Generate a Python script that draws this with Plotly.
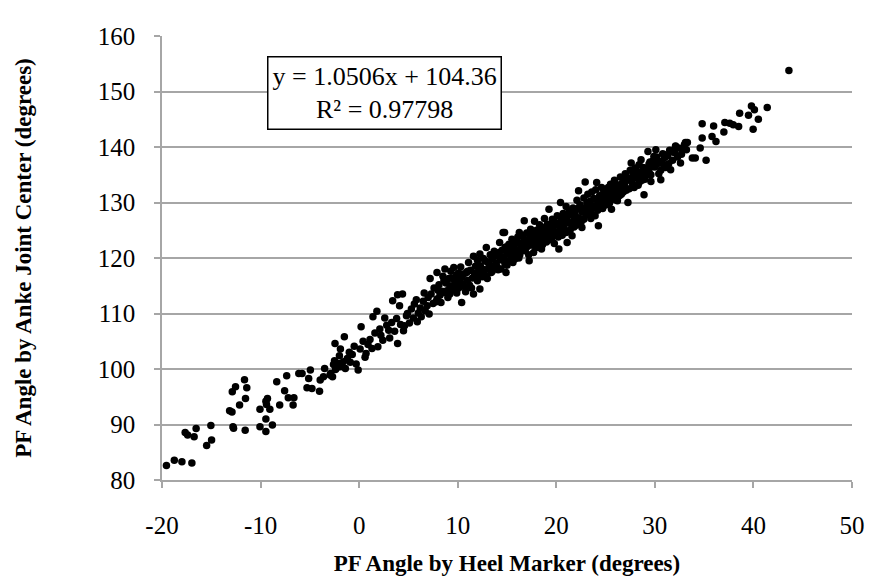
import plotly.graph_objects as go

# ---- data (x = heel marker angle, y = ankle joint centre angle) ----
x_low = [-19.55, -18.75, -17.98, -16.97, -17.65, -17.4, -16.74, -16.54, -15.47, -14.97, -15.04,
         -13.14, -12.9, -12.8, -12.74, -11.56, -12.87, -12.54, -11.63, -11.4, -11.53, -12.13,
         -10.06, -9.46, -9.4, -9.06, -9.46, -10.06, -9.46, -8.8, -9.3, -8.36, -8.06, -7.35,
         -7.56, -7.19, -6.62, -6.7, -6.12, -5.79, -5.12, -5.29, -4.79, -4.02, -3.95, -3.62,
         -2.95, -4.95, -3.5, -2.4, -1.9]
y_low = [82.6, 83.55, 83.3, 83.07, 88.57, 88.1, 87.8, 89.3, 86.2, 87.2, 89.8,
         92.5, 92.26, 89.6, 89.33, 88.98, 95.9, 96.8, 98.06, 96.6, 94.7, 93.5,
         92.74, 94.2, 93.6, 92.74, 91.0, 89.6, 88.75, 89.93, 94.7, 97.7, 93.5, 98.8,
         96.1, 94.8, 94.8, 93.5, 99.2, 99.2, 98.3, 96.6, 96.5, 96.0, 98.0, 98.6,
         98.9, 99.8, 100.1, 99.9, 100.4]

x_a = [-2.9, -2.6, -2.5, -2.3, -2.1, -2.0, -1.8, -1.6, -1.5, -1.4, -1.2, -1.0, -0.9, -0.7, -0.5,
       -0.3, -0.1, 0.1, 0.2, 0.4, 0.6, 0.7, 0.9, -2.45, -1.9, -2.7,
       1.1, 1.3, 1.4, 1.6, 1.8, 1.9, 2.1, 2.2, 2.4, 2.6, 2.8, 3.0, 3.1, 3.3, 3.4, 3.6, 3.8, 3.9,
       3.9, 4.1, 4.2, 4.4, 4.5, 4.6, 4.8, 4.9]
y_a = [99.2, 100.8, 101.5, 100.2, 101.0, 102.4, 100.6, 101.3, 105.8, 100.1, 101.9, 103.0, 101.2, 102.6, 104.1,
       100.9, 99.8, 103.6, 107.6, 105.0, 102.1, 102.8, 104.4, 104.6, 103.6, 98.6,
       105.3, 103.7, 109.4, 106.5, 110.4, 104.0, 107.2, 106.1, 105.2, 109.2, 107.9, 107.0, 105.6, 108.4, 112.3, 106.8, 109.1, 104.6,
       113.4, 111.4, 108.0, 113.5, 106.9, 107.8, 109.6, 110.0]

x_b = [5.1, 5.3, 5.5, 5.6, 5.8, 5.9, 6.0, 6.2, 6.3, 6.5, 6.6, 6.7, 6.9, 7.0, 7.1, 7.2, 7.3, 7.5, 7.6,
       7.8, 7.9, 7.9, 8.1, 8.2, 8.4, 8.5, 8.6, 8.7, 8.8, 9.0, 9.1, 9.2, 9.3, 9.5, 9.6, 9.7, 9.9, 9.9,
       10.0, 10.1, 10.2, 10.3, 10.4, 10.5, 10.6, 10.7, 10.9, 11.0, 11.1, 11.2, 11.3, 11.5, 11.6, 11.6,
       11.8, 11.9, 12.0, 12.1, 12.25, 12.25, 12.4, 12.5, 12.6, 12.7, 12.9, 12.9, 13.0, 13.1, 13.3, 13.4,
       13.5, 13.6, 13.7, 13.9, 14.0, 14.1, 14.25, 14.3, 14.5, 14.6, 14.7, 14.75, 14.8, 14.9, 14.9]
y_b = [108.3, 110.8, 109.2, 111.7, 112.5, 108.5, 110.1, 111.0, 109.4, 112.2, 113.7, 110.5, 111.4, 112.9, 109.9, 116.3, 113.5, 111.8, 114.6,
       112.1, 117.4, 112.6, 115.2, 113.3, 114.0, 116.7, 113.8, 118.0, 115.5, 112.9, 116.3, 115.0, 117.6, 114.3, 118.3, 115.8, 113.7, 117.0,
       115.9, 114.6, 116.2, 118.4, 112.0, 115.3, 117.1, 114.8, 117.4, 116.0, 119.2, 115.1, 117.8, 116.4, 120.3, 113.5,
       118.5, 116.9, 119.6, 117.5, 120.7, 114.4, 118.1, 116.6, 119.9, 117.9, 121.9, 116.8, 119.3, 118.0, 120.6, 117.4,
       119.9, 118.6, 121.2, 119.0, 120.5, 117.9, 122.8, 119.7, 121.4, 124.6, 120.2, 124.6, 118.9, 117.4, 122.0]

x_c = [15.0, 15.1, 15.2, 15.3, 15.4, 15.5, 15.6, 15.7, 15.8, 15.9, 16.0, 16.1, 16.25, 16.3, 16.4, 16.5, 16.6,
       16.75, 16.8, 16.9, 17.0, 17.1, 17.25, 17.3, 17.4, 17.5, 17.6, 17.7, 17.8, 17.9, 18.0, 18.1, 18.2, 18.3,
       18.4, 18.5, 18.6, 18.7, 18.8, 18.9, 19.0, 19.1, 19.26, 19.3, 19.4, 19.5, 19.6, 19.7, 19.8, 19.9,
       20.0, 20.1, 20.26, 20.3, 20.43, 20.5, 20.6, 20.7, 20.8, 20.9, 21.0, 21.1, 21.2, 21.3, 21.4, 21.5, 21.6,
       21.7, 21.8, 21.9, 22.0, 22.1, 22.26, 22.3, 22.4, 22.5, 22.6, 22.7, 22.8, 22.93, 23.0, 23.1, 23.2, 23.3,
       23.4, 23.5, 23.6, 23.7, 23.8, 23.94, 24.0, 24.1, 24.2, 24.27, 24.4, 24.5, 24.6, 24.7, 24.8, 24.9]
y_c = [120.8, 119.4, 122.5, 121.3, 120.1, 123.4, 120.4, 121.9, 119.8, 122.8, 121.1, 123.8, 124.6, 120.6, 122.3, 121.5, 122.8,
       126.7, 123.2, 121.7, 124.5, 122.1, 119.5, 123.6, 125.2, 122.7, 124.1, 121.0, 126.6, 123.0, 125.0, 122.4, 124.3, 126.0,
       123.5, 121.6, 125.4, 123.9, 127.1, 124.7, 122.9, 126.1, 128.8, 124.2, 125.6, 123.3, 127.0, 125.0, 122.6, 126.4,
       124.6, 127.6, 121.6, 125.8, 130.0, 126.7, 124.1, 128.0, 125.4, 127.2, 129.3, 122.8, 126.5, 128.5, 125.0, 127.9, 124.0,
       129.0, 126.8, 128.3, 125.9, 130.4, 132.1, 127.2, 129.6, 126.4, 125.5, 128.8, 130.8, 133.7, 127.8, 129.9, 131.5, 128.4,
       130.2, 127.1, 131.9, 129.4, 130.7, 127.6, 132.3, 133.6, 129.7, 125.8, 131.2, 130.0, 132.7, 128.9, 131.6, 130.4]

x_d = [25.0, 25.1, 25.27, 25.4, 25.5, 25.6, 25.7, 25.8, 25.9, 26.0, 26.1, 26.2, 26.4, 26.5, 26.6, 26.77, 26.9,
       27.0, 27.1, 27.27, 27.4, 27.5, 27.6, 27.7, 27.8, 27.9, 28.0, 28.1, 28.3, 28.4, 28.5, 28.6, 28.7, 28.9,
       29.0, 29.1, 29.3, 29.4, 29.5, 29.6, 29.8, 29.9,
       30.1, 30.2, 30.4, 30.6, 30.6, 30.8, 30.95, 31.1, 31.3, 31.4, 31.6, 31.8, 32.1, 32.1, 32.3, 32.6, 32.8,
       33.0, 33.1, 33.3, 33.8]
y_d = [132.0, 129.6, 132.7, 131.0, 133.3, 128.8, 132.4, 130.9, 134.0, 131.8, 133.1, 130.3, 132.9, 134.6, 131.5, 134.4, 133.0,
       135.2, 132.2, 130.0, 134.1, 135.8, 137.1, 133.6, 135.0, 132.7, 136.2, 134.5, 133.1, 136.8, 135.3, 137.7, 134.0, 131.4,
       136.0, 134.9, 139.2, 135.6, 137.3, 133.8, 136.5, 138.3,
       139.5, 136.9, 135.2, 137.4, 134.1, 138.8, 138.6, 136.3, 138.4, 137.0, 135.9, 139.1, 140.1, 140.2, 138.2, 137.1, 139.6,
       140.4, 140.8, 140.8, 138.0]

x_e = [8.0, 8.3, 8.6, 8.9, 9.2, 9.4, 9.8, 10.1, 10.4, 10.8, 11.0, 11.4, 11.7, 12.0, 12.3, 12.6, 12.8, 13.0,
       13.2, 13.5, 13.8, 14.0, 14.2, 14.4, 14.6, 14.8, 15.0, 15.2, 15.4, 15.6, 15.8, 16.0, 16.2, 16.4, 16.6,
       16.8, 17.0, 17.2, 17.4, 17.6, 17.8, 18.0, 18.2, 18.4, 18.6, 18.8, 19.0, 19.2, 19.4, 19.6, 19.8, 20.0,
       20.2, 20.4, 20.6, 20.8, 21.0, 21.2, 21.4, 21.6, 21.8, 22.0, 22.2, 22.4, 22.6, 22.8, 23.0, 23.2, 23.4,
       23.6, 23.8, 24.0, 24.2, 24.4, 24.6, 24.8, 25.0, 25.2, 25.4, 25.6, 25.8, 26.0, 26.2, 26.4, 26.6, 26.8,
       27.0, 27.2, 27.4, 27.6, 27.8, 28.0, 28.2, 28.4, 28.6, 28.8, 29.0, 29.2, 29.4, 29.6, 29.8, 30.0, 30.2,
       30.4, 30.6, 30.8, 31.0, 31.2, 31.5, 31.8, 32.0, 32.4, 32.7, 33.2]
y_e = [114.2, 112.0, 115.9, 114.1, 113.5, 116.4, 114.9, 117.3, 116.5, 113.9, 117.6, 114.6, 117.2, 115.9, 118.6, 117.1, 119.5, 116.3,
       118.8, 117.6, 120.3, 118.4, 121.0, 118.0, 119.6, 121.9, 118.7, 120.9, 122.1, 119.2, 121.5, 123.0, 120.0, 121.9, 124.0,
       121.3, 122.8, 120.6, 123.1, 122.3, 124.7, 121.9, 123.8, 125.1, 122.4, 124.5, 125.7, 123.5, 124.8, 126.2, 124.1, 126.0,
       123.8, 125.2, 127.1, 126.3, 124.6, 127.6, 126.2, 128.2, 125.6, 127.4, 128.9, 126.9, 128.3, 127.0, 129.1, 128.0, 129.6,
       127.9, 129.0, 130.6, 128.6, 129.9, 131.4, 129.4, 130.8, 132.2, 129.9, 131.6, 132.8, 130.5, 132.4, 131.2, 133.4, 131.9,
       133.7, 134.5, 132.5, 134.3, 133.0, 134.6, 135.6, 133.6, 135.0, 136.3, 134.2, 135.8, 136.9, 135.0, 137.5, 136.4, 138.2,
       137.3, 135.8, 137.0, 138.1, 136.7, 139.4, 137.6, 139.0, 139.8, 138.7, 139.5]

x_high = [34.1, 34.6, 34.8, 34.8, 35.2, 35.8, 35.96, 36.2, 37.0, 37.1, 37.6, 37.95, 38.5, 38.6,
          39.5, 39.8, 40.1, 39.97, 40.5, 41.4, 43.6]
y_high = [138.0, 139.8, 141.6, 144.2, 137.6, 141.9, 143.8, 141.0, 142.7, 144.4, 144.3, 144.0, 143.7, 146.1,
          145.7, 147.4, 146.7, 143.2, 145.0, 147.1, 153.8]

x_vals = x_low + x_a + x_b + x_c + x_d + x_e + x_high
y_vals = y_low + y_a + y_b + y_c + y_d + y_e + y_high

x_ticks = [-20, -10, 0, 10, 20, 30, 40, 50]
x_tick_text = ["-20", "-10", "0", "10", "20", "30", "40", "50"]
y_ticks = [80, 90, 100, 110, 120, 130, 140, 150, 160]
y_tick_text = ["80", "90", "100", "110", "120", "130", "140", "150", "160"]
equation_text = "y = 1.0506x + 104.36<br>R\u00b2 = 0.97798"
x_title = "PF Angle by Heel Marker (degrees)"
y_title = "PF Angle by Anke Joint Center (degrees)"

FONT = "Liberation Serif"
GRID = "#a6a6a6"

fig = go.Figure()
fig.add_trace(go.Scatter(
    x=x_vals, y=y_vals, mode="markers",
    marker=dict(color="black", size=7.5, line=dict(width=0)),
    showlegend=False, hoverinfo="skip"))

fig.update_layout(
    width=877, height=584,
    margin=dict(l=162, r=18, t=36, b=102, pad=0),
    paper_bgcolor="white", plot_bgcolor="white",
    font=dict(family=FONT, color="black", size=25),
    xaxis=dict(range=[-20, 50], tickmode="array", tickvals=x_ticks, ticktext=x_tick_text,
               showgrid=False, zeroline=False,
               showline=True, linecolor=GRID, linewidth=1.5,
               ticks="outside", ticklen=6, tickcolor=GRID, tickwidth=1.5,
               ticklabelstandoff=16,
               tickfont=dict(family=FONT, size=25, color="black"),
               title=dict(text="<b>" + x_title + "</b>", font=dict(family=FONT, size=23), standoff=17)),
    yaxis=dict(range=[80, 160], tickmode="array", tickvals=y_ticks, ticktext=y_tick_text,
               showgrid=True, gridcolor=GRID, gridwidth=1.5,
               zeroline=False, showline=True, linecolor=GRID, linewidth=1.5,
               ticks="outside", ticklen=6, tickcolor=GRID, tickwidth=1.5,
               ticklabelstandoff=14,
               tickfont=dict(family=FONT, size=25, color="black"),
               title=dict(text="<b>" + y_title + "</b>", font=dict(family=FONT, size=23), standoff=60)),
    annotations=[dict(
        xref="paper", yref="paper", x=0.323, y=0.872, xanchor="center", yanchor="middle",
        text=equation_text, showarrow=False, align="center",
        font=dict(family=FONT, size=26, color="black"),
        bgcolor="white", bordercolor="black", borderwidth=1.5, borderpad=4)],
)

fig.write_html("out.html")
